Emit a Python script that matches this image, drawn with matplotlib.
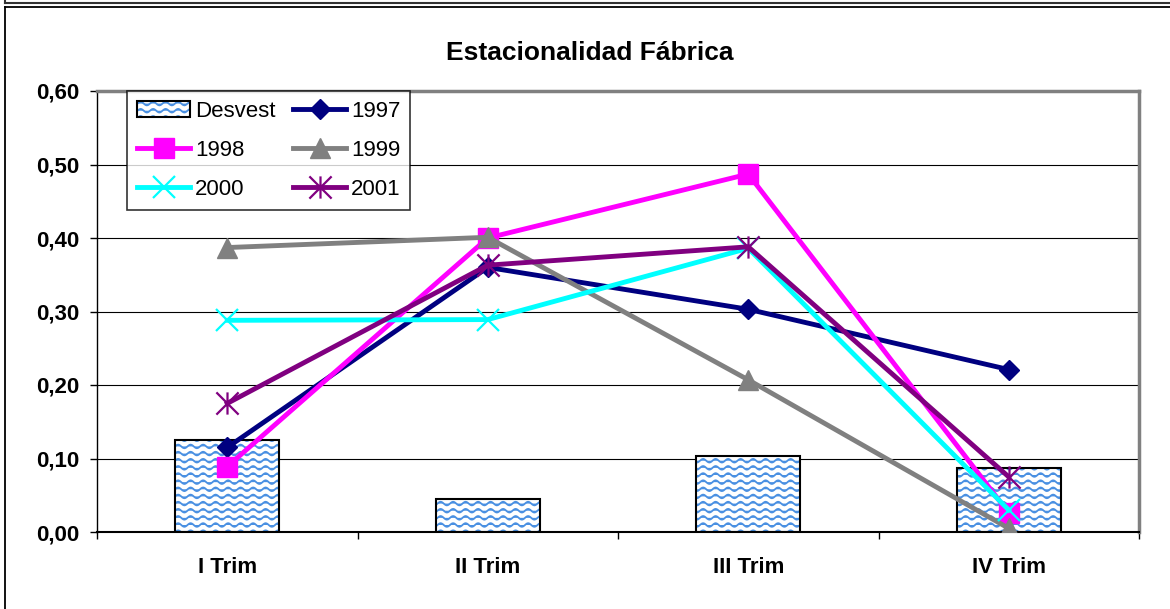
import warnings
warnings.filterwarnings("ignore")
import numpy as np
import matplotlib
matplotlib.use("Agg")
import matplotlib.pyplot as plt
import matplotlib.hatch as mhatch
from matplotlib.path import Path
from matplotlib.patches import Patch
from matplotlib.lines import Line2D
from matplotlib.legend_handler import HandlerTuple
from matplotlib.ticker import FuncFormatter, FixedLocator

# ---------------- data ----------------
categories = ["I Trim", "II Trim", "III Trim", "IV Trim"]
desvest = [0.125, 0.045, 0.104, 0.087]
s1997 = [0.115, 0.360, 0.303, 0.221]
s1998 = [0.089, 0.400, 0.487, 0.026]
s1999 = [0.387, 0.401, 0.207, 0.005]
s2000 = [0.288, 0.289, 0.386, 0.030]
s2001 = [0.175, 0.363, 0.388, 0.075]
yticks = [0.0, 0.1, 0.2, 0.3, 0.4, 0.5, 0.6]
title = "Estacionalidad Fábrica"

# ---------------- custom wavy hatch ----------------
class WaveHatch(mhatch.HatchPatternBase):
    def __init__(self, hatch, density):
        self.num_rows = int(round(hatch.count('~') * density * 7 / 6))
        self.npts = 97
        self.num_vertices = self.num_rows * self.npts

    def set_vertices_and_codes(self, vertices, codes):
        t = np.linspace(0, 1, self.npts)
        k = 0
        for i in range(self.num_rows):
            y0 = (i + 0.5) / self.num_rows
            vertices[k:k + self.npts, 0] = t
            vertices[k:k + self.npts, 1] = y0 + 0.018 * np.sin(2 * np.pi * 8 * t)
            codes[k] = Path.MOVETO
            codes[k + 1:k + self.npts] = Path.LINETO
            k += self.npts

mhatch._hatch_types.append(WaveHatch)

plt.rcParams['font.family'] = ['Liberation Sans', 'DejaVu Sans']
plt.rcParams['hatch.linewidth'] = 1.3

W, H = 1170, 609
fig = plt.figure(figsize=(W / 100, H / 100), dpi=100)
fig.patch.set_facecolor('white')

# outer frame decorations
fig.add_artist(Line2D([5 / W, 5 / W], [1, 1 - 2.5 / H], transform=fig.transFigure, color='#333333', lw=1.5))
fig.add_artist(Line2D([5 / W, 1], [1 - 2.5 / H, 1 - 2.5 / H], transform=fig.transFigure, color='#333333', lw=1.5))
fig.add_artist(Line2D([5 / W, 1], [1 - 7 / H, 1 - 7 / H], transform=fig.transFigure, color='black', lw=1.3))
fig.add_artist(Line2D([5 / W, 5 / W], [1 - 7 / H, 0], transform=fig.transFigure, color='black', lw=1.3))

ax = fig.add_axes([97 / W, 1 - 532 / H, (1139 - 97) / W, (532 - 91) / H])
x = np.arange(len(categories))
hatch_blue = '#4a90e2'
bw = 0.40
ax.bar(x, desvest, width=bw, color='white', edgecolor=hatch_blue, hatch='~~', lw=0, zorder=2)
ax.bar(x, desvest, width=bw, color='none', edgecolor='black', lw=1.5, zorder=2.1)

ast = Path([(0, -1), (0, 1), (-1, -1), (1, 1), (-1, 1), (1, -1)],
           [Path.MOVETO, Path.LINETO, Path.MOVETO, Path.LINETO, Path.MOVETO, Path.LINETO])

series = [
    ("1997", s1997, '#000080', 'D', 10, {}),
    ("1998", s1998, '#FF00FF', 's', 15, {}),
    ("1999", s1999, '#808080', '^', 15, {}),
    ("2000", s2000, '#00FFFF', 'x', 16, {'markeredgewidth': 1.6}),
    ("2001", s2001, '#800080', ast, 16, {'markeredgewidth': 1.6}),
]
handles = {}
for i, (lab, vals, col, mk, ms, kw) in enumerate(series):
    ln, = ax.plot(x, vals, color=col, lw=3.5, marker=mk, markersize=ms,
                  markerfacecolor=col, markeredgecolor=col, zorder=3 + i, label=lab, **kw)
    handles[lab] = ln

ax.set_xlim(-0.5, 3.5)
ax.set_ylim(0, 0.6)
ax.set_yticks(yticks)
ax.yaxis.set_major_formatter(FuncFormatter(lambda v, p: f"{v:.2f}".replace('.', ',')))
ax.set_xticks(x)
ax.set_xticklabels(categories)
ax.xaxis.set_minor_locator(FixedLocator([-0.5, 0.5, 1.5, 2.5, 3.5]))
ax.tick_params(axis='x', which='major', length=0, pad=18)
ax.tick_params(axis='x', which='minor', length=5, width=1, color='black', direction='out')
ax.tick_params(axis='y', which='major', length=5, width=1, color='black', direction='out', pad=8)
for lbl in ax.get_xticklabels() + ax.get_yticklabels():
    lbl.set_fontsize(16)
    lbl.set_fontweight('bold')

ax.yaxis.grid(True, color='black', lw=0.8)
ax.set_axisbelow(True)
ax.spines['left'].set_color('black')
ax.spines['left'].set_linewidth(1)
ax.spines['bottom'].set_color('black')
ax.spines['bottom'].set_linewidth(1.5)
for s in ('top', 'right'):
    ax.spines[s].set_color('#808080')
    ax.spines[s].set_linewidth(2.5)

fig.text(590 / W, 1 - 53 / H, title, ha='center', va='center', fontsize=19, fontweight='bold')

desv_handle = (Patch(facecolor='white', edgecolor=hatch_blue, hatch='~~', lw=0),
               Patch(facecolor='none', edgecolor='black', lw=1.5))
hl = [desv_handle, handles["1998"], handles["2000"], handles["1997"], handles["1999"], handles["2001"]]
ll = ["Desvest", "1998", "2000", "1997", "1999", "2001"]
leg = ax.legend(hl, ll, ncol=2, loc='upper left',
                bbox_to_anchor=(127 / W, 1 - 91 / H), bbox_transform=fig.transFigure,
                borderaxespad=0, fontsize=16, frameon=True, fancybox=False,
                handlelength=2.4, handleheight=0.7, handletextpad=0.2,
                columnspacing=0.8, labelspacing=0.8, borderpad=0.45,
                handler_map={tuple: HandlerTuple(ndivide=1)})
leg.get_frame().set_edgecolor('black')
leg.get_frame().set_linewidth(1.2)
leg.set_zorder(20)

fig.savefig('out.png', dpi=100)
